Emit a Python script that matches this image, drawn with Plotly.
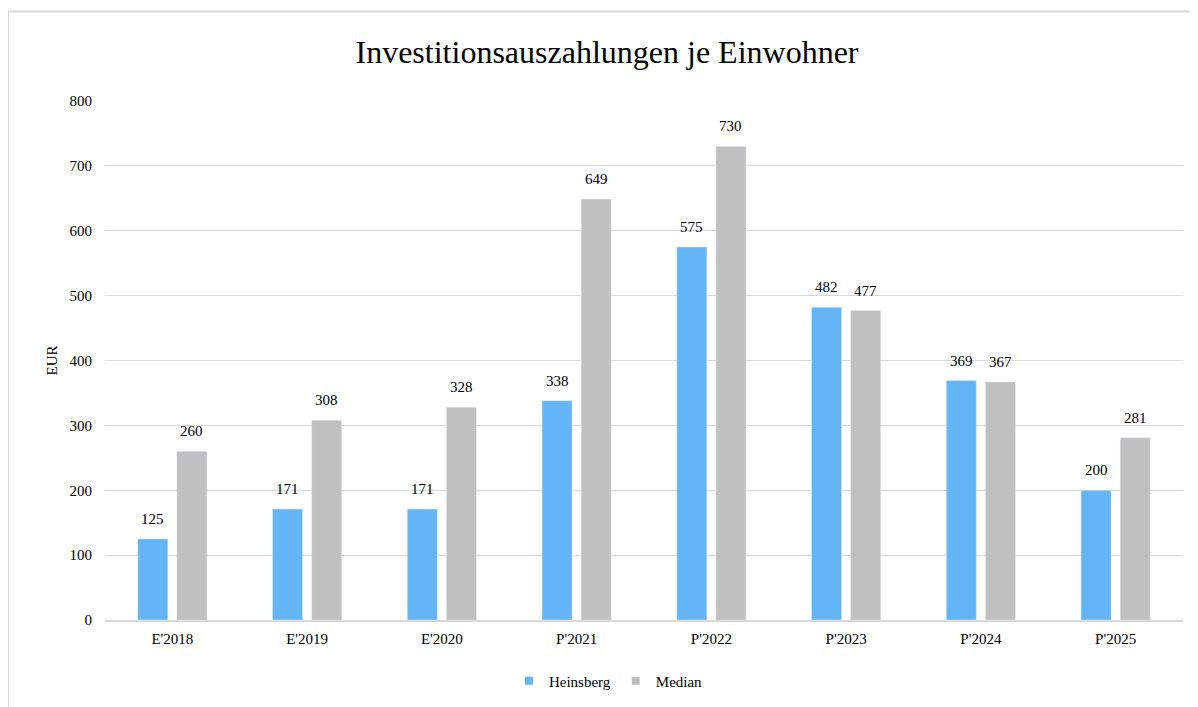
import plotly.graph_objects as go

categories = ["E'2018", "E'2019", "E'2020", "P'2021", "P'2022", "P'2023", "P'2024", "P'2025"]
heinsberg = [125, 171, 171, 338, 575, 482, 369, 200]
median = [260, 308, 328, 649, 730, 477, 367, 281]

FONT = "Liberation Serif"
BLUE = "#63B5F5"
GRAY = "#C0C0C0"
GRID = "#D9D9D9"
BLACK = "#000000"

fig = go.Figure()
fig.add_trace(go.Bar(x=categories, y=heinsberg, name="Heinsberg", marker_color=BLUE,
                     showlegend=False))
fig.add_trace(go.Bar(x=categories, y=median, name="Median", marker_color=GRAY,
                     showlegend=False))
# legend entries with small square symbols
fig.add_trace(go.Scatter(x=[None], y=[None], mode="markers", name="Heinsberg",
                         marker=dict(symbol="square", size=8, color=BLUE)))
fig.add_trace(go.Scatter(x=[None], y=[None], mode="markers", name="Median",
                         marker=dict(symbol="square", size=8, color=GRAY)))

annotations = []
for series, shift in ((heinsberg, -19.5), (median, 19.5)):
    for c, v in zip(categories, series):
        annotations.append(dict(x=c, y=v, text=str(v), showarrow=False, xshift=shift,
                                yshift=20, yanchor="middle",
                                font=dict(family=FONT, size=15, color=BLACK)))

fig.update_layout(
    width=1198, height=707,
    margin=dict(l=97, r=23, t=93, b=95),
    paper_bgcolor="white", plot_bgcolor="white",
    barmode="group", bargap=0.42, bargroupgap=0.23,
    font=dict(family=FONT, size=15, color=BLACK),
    title=dict(text="Investitionsauszahlungen je Einwohner", x=0.5, xanchor="center",
               y=1 - 44 / 707, yanchor="middle",
               font=dict(family=FONT, size=32, color=BLACK)),
    legend=dict(orientation="h", x=0.467, xanchor="center", y=-0.1175, yanchor="middle",
                font=dict(family=FONT, size=15, color=BLACK), itemwidth=30,
                traceorder="normal"),
    annotations=annotations,
    shapes=[
        dict(type="line", xref="paper", yref="paper", x0=-0.09, x1=1.2, y0=1.1725, y1=1.1725,
             line=dict(color=GRID, width=2)),
        dict(type="line", xref="paper", yref="paper", x0=-0.09, x1=-0.09, y0=1.1725, y1=-0.3,
             line=dict(color=GRID, width=2)),
    ],
)
fig.update_xaxes(showline=True, linecolor=GRID, linewidth=2, ticks="", showgrid=False,
                 tickfont=dict(family=FONT, size=15, color=BLACK), ticklabelstandoff=4)
fig.update_yaxes(range=[0, 800], dtick=100, showgrid=True, gridcolor=GRID, gridwidth=1,
                 zeroline=False, ticks="", tickfont=dict(family=FONT, size=15, color=BLACK),
                 ticklabelstandoff=12,
                 title=dict(text="EUR", standoff=8, font=dict(family=FONT, size=15, color=BLACK)))

fig.write_html("out.html")
